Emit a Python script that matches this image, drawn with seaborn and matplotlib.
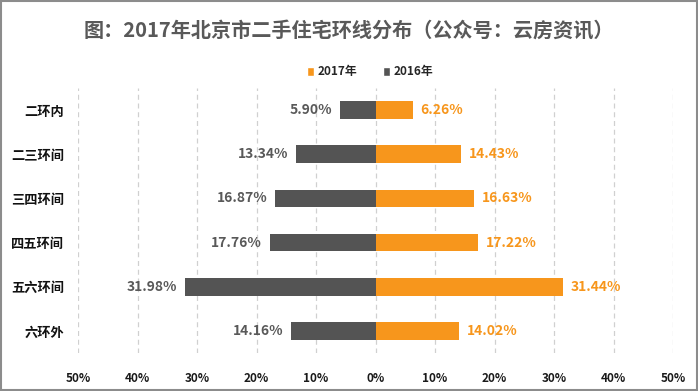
import matplotlib
matplotlib.use("Agg")
import matplotlib.pyplot as plt
import seaborn as sns
import pandas as pd
from matplotlib.patches import Rectangle, Patch

categories = ["二环内", "二三环间", "三四环间", "四五环间", "五六环间", "六环外"]
values_2017 = [6.26, 14.43, 16.63, 17.22, 31.44, 14.02]
values_2016 = [5.90, 13.34, 16.87, 17.76, 31.98, 14.16]
series = ["2017年", "2016年"]
tick_vals = [-50, -40, -30, -20, -10, 0, 10, 20, 30, 40, 50]
tick_labels = ["50%", "40%", "30%", "20%", "10%", "0%", "10%", "20%", "30%", "40%", "50%"]
title = "图：2017年北京市二手住宅环线分布（公众号：云房资讯）"

ORANGE = "#F7961C"
GRAY = "#545454"

sns.set_theme(style="white")
plt.rcParams["font.family"] = ["Noto Sans CJK SC", "DejaVu Sans"]

df = pd.DataFrame({
    "ring": categories * 2,
    "value": values_2017 + [-v for v in values_2016],
    "year": [series[0]] * len(categories) + [series[1]] * len(categories),
})

fig = plt.figure(figsize=(6.98, 3.91), dpi=100)
ax = fig.add_axes([78 / 698, 1 - 353 / 391, 595 / 698, 265 / 391])

sns.barplot(data=df, x="value", y="ring", hue="year", order=categories,
            hue_order=series, palette=[ORANGE, GRAY], dodge=False,
            orient="h", width=0.4, ax=ax, legend=False, saturation=1,
            linewidth=0, edgecolor="none")

ax.set_xlim(-50, 50)
ax.set_ylim(len(categories) - 0.5, -0.5)
for x in tick_vals:
    ax.axvline(x, color="#D0D0D0", lw=0.9, ls=(0, (4, 3)), zorder=0)
ax.set_xticks(tick_vals)
ax.set_xticklabels(tick_labels, fontsize=8.5, fontweight="bold", color="#1a1a1a")
ax.tick_params(axis="x", length=0, pad=14)
ax.tick_params(axis="y", length=0, pad=10)
ax.set_yticks(range(len(categories)))
ax.set_yticklabels(categories, fontsize=9.5, fontweight="bold", color="#111111")
ax.set_xlabel("")
ax.set_ylabel("")
for s in ax.spines.values():
    s.set_visible(False)

for i, (a, b) in enumerate(zip(values_2017, values_2016)):
    ax.text(a + 1.3, i, f"{a:.2f}%", ha="left", va="center", fontsize=10,
            fontweight="bold", color=ORANGE)
    ax.text(-b - 1.3, i, f"{b:.2f}%", ha="right", va="center", fontsize=10,
            fontweight="bold", color="#595959")

fig.text(0.5, 1 - 30 / 391, title, ha="center", va="center", fontsize=14.5,
         fontweight="bold", color="#595959")

handles = [Patch(facecolor=ORANGE), Patch(facecolor=GRAY)]
fig.legend(handles, series, loc="center", bbox_to_anchor=(0.53, 1 - 72 / 391),
           ncol=2, frameon=False, handlelength=0.6, handleheight=0.9,
           handletextpad=0.3, columnspacing=2.2, prop={"weight": "bold", "size": 8.5})

fig.patches.append(Rectangle((0.001, 0.002), 0.997, 0.995, transform=fig.transFigure,
                             fill=False, edgecolor="#8c8c8c", lw=1.5))

fig.savefig("out.png", dpi=100, facecolor="white")
